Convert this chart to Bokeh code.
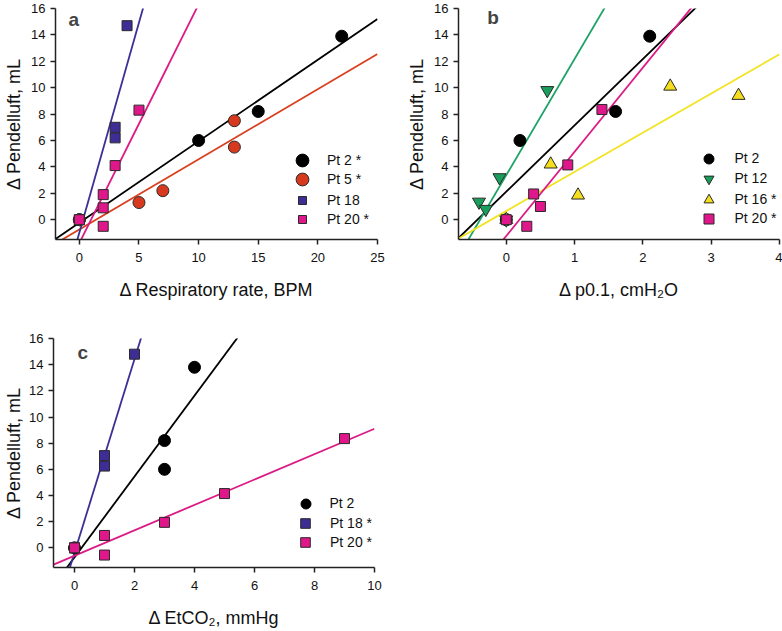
import numpy as np
from bokeh.plotting import figure
from bokeh.models import FixedTicker, Legend, LegendItem, Label, Range1d
from bokeh.layouts import column, row
from bokeh.embed import file_html
from bokeh.resources import INLINE

# ---------------- data ----------------
# Panel a: Δ Respiratory rate (BPM)
a_pt2_x = [0, 10, 15, 22]
a_pt2_y = [0, 6.0, 8.2, 13.9]
a_pt5_x = [0, 5, 7, 13, 13]
a_pt5_y = [0, 1.3, 2.2, 7.5, 5.5]
a_pt18_x = [0, 3, 3, 4]
a_pt18_y = [0, 7.0, 6.2, 14.7]
a_pt20_x = [0, 2, 2, 2, 3, 5]
a_pt20_y = [0, 1.9, 0.9, -0.5, 4.1, 8.3]

# Panel b: Δ p0.1 (cmH2O)
b_pt2_x = [0, 0.2, 1.6, 2.1]
b_pt2_y = [0, 6.0, 8.2, 13.9]
b_pt12_x = [0, -0.1, -0.4, -0.3, 0.6]
b_pt12_y = [0, 3.2, 1.35, 0.8, 9.8]
b_pt16_x = [0, 0.65, 1.05, 2.4, 3.4]
b_pt16_y = [0, 4.2, 1.85, 10.1, 9.4]
b_pt20_x = [0, 0.3, 0.4, 0.5, 0.9, 1.4]
b_pt20_y = [0, -0.5, 1.95, 1.0, 4.15, 8.35]

# Panel c: Δ EtCO2 (mmHg)
c_pt2_x = [0, 3, 3, 4]
c_pt2_y = [0, 8.2, 6.0, 13.8]
c_pt18_x = [0, 1, 1, 2]
c_pt18_y = [0, 7.05, 6.25, 14.8]
c_pt20_x = [0, 1, 1, 3, 5, 9]
c_pt20_y = [0, 0.95, -0.55, 1.95, 4.15, 8.35]

y_ticks = [0, 2, 4, 6, 8, 10, 12, 14, 16]
a_x_ticks = [0, 5, 10, 15, 20, 25]
b_x_ticks = [0, 1, 2, 3, 4]
c_x_ticks = [0, 2, 4, 6, 8, 10]

# ---------------- styles ----------------
FONT = "Liberation Sans"
AX = "#222222"
EDGE = "#2a2a2a"
BLACK = "#000000"
RED_F, RED_L = "#d7391f", "#d9401f"
BLUE_F, BLUE_L = "#3d2d94", "#3b3096"
MAG_F, MAG_L = "#e0178a", "#dc1a85"
GRN_F, GRN_L = "#199e5b", "#1ca366"
YEL_F, YEL_L = "#f4de1e", "#f2e31f"


def make_panel(width, height, borders, xr, xticks, xlabel, ylab_standoff):
    left, right, top, bottom = borders
    p = figure(width=width, height=height, x_range=Range1d(*xr), y_range=Range1d(-1.5, 16),
               output_backend="svg", toolbar_location=None,
               min_border_left=left, min_border_right=right,
               min_border_top=top, min_border_bottom=bottom)
    p.outline_line_color = None
    p.xgrid.visible = False
    p.ygrid.visible = False
    p.background_fill_color = "white"
    p.border_fill_color = "white"
    p.xaxis.ticker = FixedTicker(ticks=xticks)
    p.yaxis.ticker = FixedTicker(ticks=y_ticks)
    p.xaxis.axis_label = xlabel
    p.yaxis.axis_label = "Δ Pendelluft, mL"
    for ax in (p.xaxis[0], p.yaxis[0]):
        ax.axis_line_color = AX
        ax.axis_line_width = 1.5
        ax.major_tick_line_color = AX
        ax.major_tick_line_width = 1.5
        ax.major_tick_in = 0
        ax.major_tick_out = 5
        ax.minor_tick_line_color = None
        ax.major_label_text_font = FONT
        ax.major_label_text_font_size = "13px"
        ax.major_label_text_color = "#111111"
        ax.axis_label_text_font = FONT
        ax.axis_label_text_font_size = "18px"
        ax.axis_label_text_font_style = "normal"
        ax.axis_label_text_color = "#111111"
    p.yaxis.major_label_standoff = 5
    p.yaxis.axis_label_standoff = ylab_standoff
    p.xaxis.major_label_standoff = 8
    p.xaxis.axis_label_standoff = 15
    return p


def fit(p, xs, ys, color):
    k, b = np.polyfit(np.array(xs, float), np.array(ys, float), 1)
    lx = np.array([p.x_range.start, p.x_range.end])
    p.line(lx, k * lx + b, line_color=color, line_width=1.8)


def pts(p, xs, ys, marker, size, fill, line):
    return p.scatter(xs, ys, marker=marker, size=size, fill_color=fill,
                     line_color=line, line_width=1)


def legend_entry(p, label, r, cx, cy, tx, g):
    # cx, cy: glyph centre (screen px from frame bottom-left); tx: text start
    leg = Legend(items=[LegendItem(label=label, renderers=[r])],
                 location=(cx - g / 2, cy - g / 2), glyph_width=g, glyph_height=g,
                 padding=0, margin=0, spacing=0, label_standoff=int(round(tx - cx - g / 2)),
                 label_height=16, border_line_color=None, background_fill_alpha=0,
                 label_text_font=FONT, label_text_font_size="14px",
                 label_text_color="#111111")
    p.add_layout(leg)


def letter(p, x, y, t):
    p.add_layout(Label(x=x, y=y, text=t, text_font=FONT, text_font_style="bold",
                       text_font_size="19px", text_baseline="alphabetic"))


# ---------------- panel a ----------------
pa = make_panel(403, 304, (55, 26, 8, 65), (-2, 25), a_x_ticks,
                "Δ Respiratory rate, BPM", 4)
fit(pa, a_pt2_x, a_pt2_y, BLACK)
fit(pa, a_pt5_x, a_pt5_y, RED_L)
fit(pa, a_pt18_x, a_pt18_y, BLUE_L)
fit(pa, a_pt20_x, a_pt20_y, MAG_L)
ra1 = pts(pa, a_pt2_x, a_pt2_y, "circle", 12, BLACK, BLACK)
ra2 = pts(pa, a_pt5_x, a_pt5_y, "circle", 12, RED_F, EDGE)
ra3 = pts(pa, a_pt18_x, a_pt18_y, "square", 10, BLUE_F, EDGE)
ra4 = pts(pa, a_pt20_x, a_pt20_y, "square", 10, MAG_F, EDGE)
legend_entry(pa, "Pt 2 *", ra1, 247, 79, 272, 32)
legend_entry(pa, "Pt 5 *", ra2, 247, 60, 272, 32)
legend_entry(pa, "Pt 18", ra3, 247, 39, 272, 20)
legend_entry(pa, "Pt 20 *", ra4, 247, 20, 272, 20)
letter(pa, -0.91, 15.2, "a")

# ---------------- panel b ----------------
pb = make_panel(379, 304, (55, 3, 8, 65), (-0.7, 4), b_x_ticks,
                "Δ p0.1, cmH₂O", 4)
fit(pb, b_pt2_x, b_pt2_y, BLACK)
fit(pb, b_pt12_x, b_pt12_y, GRN_L)
fit(pb, b_pt16_x, b_pt16_y, YEL_L)
fit(pb, b_pt20_x, b_pt20_y, MAG_L)
rb1 = pts(pb, b_pt2_x, b_pt2_y, "circle", 12, BLACK, BLACK)
rb2 = pts(pb, b_pt12_x, b_pt12_y, "inverted_triangle", 13, GRN_F, EDGE)
rb3 = pts(pb, b_pt16_x, b_pt16_y, "triangle", 13, YEL_F, EDGE)
rb4 = pts(pb, b_pt20_x, b_pt20_y, "square", 10, MAG_F, EDGE)
legend_entry(pb, "Pt 2", rb1, 250, 81, 276, 25)
legend_entry(pb, "Pt 12", rb2, 250, 61, 276, 25)
legend_entry(pb, "Pt 16 *", rb3, 250, 40, 276, 25)
legend_entry(pb, "Pt 20 *", rb4, 250, 21, 276, 25)
letter(pb, -0.28, 15.3, "b")

# ---------------- panel c ----------------
pc = make_panel(400, 327, (53, 26, 34, 64), (-0.7, 10), c_x_ticks,
                "Δ EtCO₂, mmHg", 2)
fit(pc, c_pt2_x, c_pt2_y, BLACK)
fit(pc, c_pt18_x, c_pt18_y, BLUE_L)
fit(pc, c_pt20_x, c_pt20_y, MAG_L)
rc1 = pts(pc, c_pt2_x, c_pt2_y, "circle", 12, BLACK, BLACK)
rc2 = pts(pc, c_pt18_x, c_pt18_y, "square", 10, BLUE_F, EDGE)
rc3 = pts(pc, c_pt20_x, c_pt20_y, "square", 10, MAG_F, EDGE)
legend_entry(pc, "Pt 2", rc1, 252, 64, 277, 25)
legend_entry(pc, "Pt 18 *", rc2, 252, 44, 277, 24)
legend_entry(pc, "Pt 20 *", rc3, 252, 25, 277, 24)
letter(pc, 0.1, 14.9, "c")

layout = column(row(pa, pb), pc)
open("out.html", "w").write(file_html(layout, INLINE))
